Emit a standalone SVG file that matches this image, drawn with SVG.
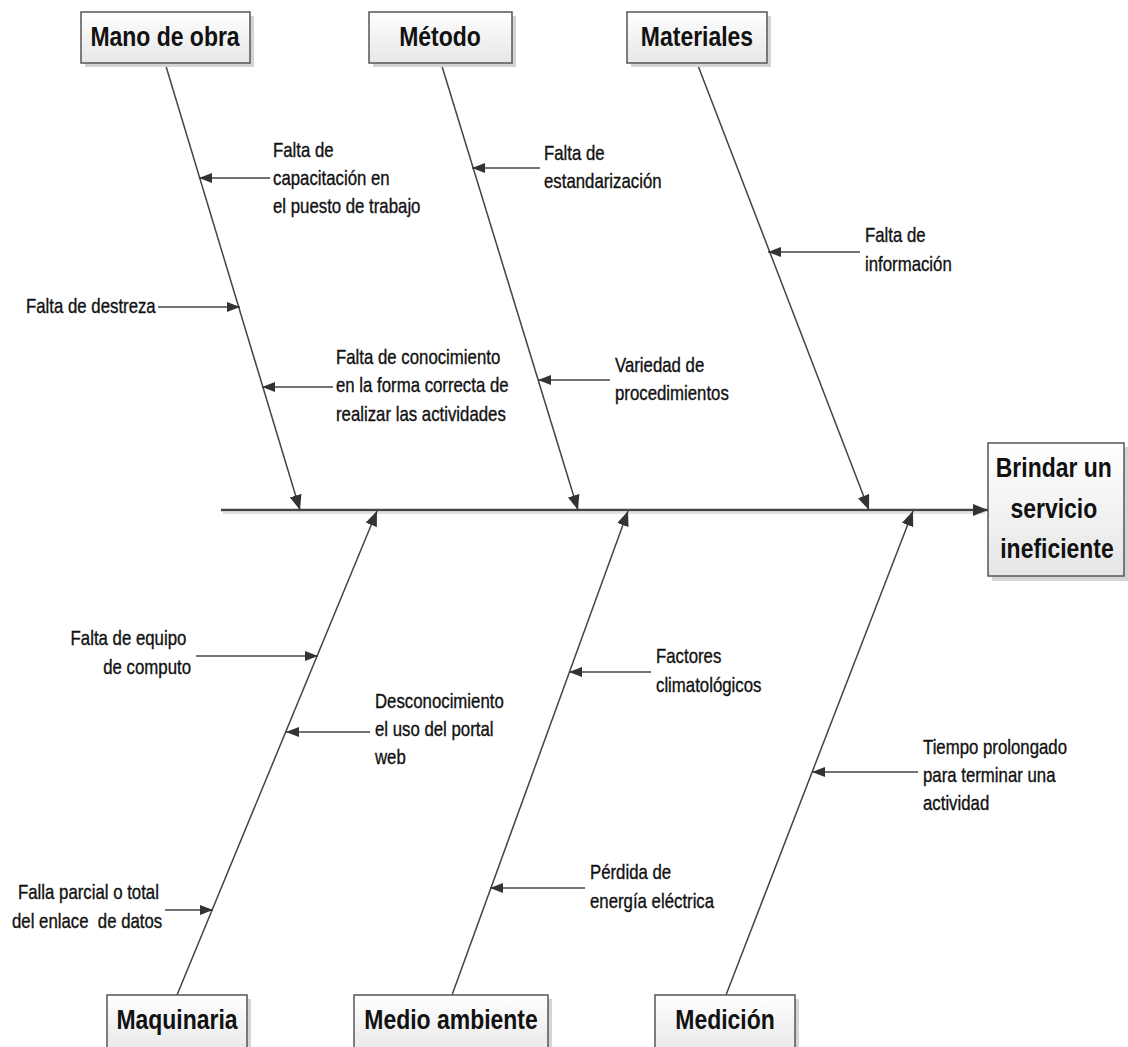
<svg xmlns="http://www.w3.org/2000/svg" width="1128" height="1047" viewBox="0 0 1128 1047">
  <defs>
    <linearGradient id="boxFill" x1="0" y1="0" x2="0" y2="1">
      <stop offset="0" stop-color="#ffffff"/>
      <stop offset="1" stop-color="#e6e6e6"/>
    </linearGradient>
    <marker id="boneHead" markerUnits="userSpaceOnUse" markerWidth="16" markerHeight="12" refX="15" refY="6" orient="auto">
      <path d="M0,0 L15,6 L0,12 Z" fill="#333"/>
    </marker>
    <marker id="causeHead" markerUnits="userSpaceOnUse" markerWidth="14" markerHeight="10" refX="13" refY="5" orient="auto">
      <path d="M0,0 L13,5 L0,10 Z" fill="#333"/>
    </marker>
    <style>
      .box { fill: url(#boxFill); stroke: #555; stroke-width: 1.5; }
      .shadow { fill: #d4d4d4; }
      .title { font-family: "Liberation Sans", Arial, sans-serif; font-weight: bold; font-size: 28px; fill: #111; text-anchor: middle; }
      .label { font-family: "Liberation Sans", Arial, sans-serif; font-size: 20px; fill: #111; stroke: #111; stroke-width: 0.35; }
      .bone { stroke: #444; stroke-width: 1.5; fill: none; marker-end: url(#boneHead); }
      .cause { stroke: #444; stroke-width: 1.5; fill: none; marker-end: url(#causeHead); }
      .spine { stroke: #444; stroke-width: 2.5; fill: none; marker-end: url(#boneHead); }
    </style>
  </defs>

  <rect width="1128" height="1047" fill="#ffffff"/>

  <!-- connectors: spine, category bones and cause arrows -->
  <g id="connectors">
    <line x1="223" y1="513" x2="985" y2="513" stroke="#e2e2e2" stroke-width="2"/>
    <line class="spine" x1="221" y1="510" x2="988" y2="510"/>

    <line class="bone" x1="165" y1="63" x2="300" y2="510"/>
    <line class="bone" x1="441" y1="63" x2="578" y2="510"/>
    <line class="bone" x1="697" y1="63" x2="869" y2="510"/>
    <line class="bone" x1="177" y1="995" x2="377" y2="511"/>
    <line class="bone" x1="452" y1="995" x2="628" y2="511"/>
    <line class="bone" x1="726" y1="995" x2="913" y2="511"/>

    <line class="cause" x1="270" y1="178" x2="199" y2="178"/>
    <line class="cause" x1="158" y1="307" x2="240" y2="307"/>
    <line class="cause" x1="333" y1="387" x2="262" y2="387"/>
    <line class="cause" x1="540" y1="168" x2="472" y2="168"/>
    <line class="cause" x1="610" y1="380" x2="538" y2="380"/>
    <line class="cause" x1="860" y1="252" x2="768" y2="252"/>
    <line class="cause" x1="196" y1="656" x2="318" y2="656"/>
    <line class="cause" x1="370" y1="732" x2="286" y2="732"/>
    <line class="cause" x1="165" y1="910" x2="213" y2="910"/>
    <line class="cause" x1="651" y1="672" x2="569" y2="672"/>
    <line class="cause" x1="585" y1="888" x2="490" y2="888"/>
    <line class="cause" x1="918" y1="772" x2="812" y2="772"/>
  </g>

  <!-- category boxes -->
  <g id="mano-de-obra">
    <rect class="shadow" x="85" y="16" width="169" height="51"/>
    <rect class="box" x="81" y="12" width="169" height="51"/>
    <text class="title" transform="translate(165,46) scale(0.82,1)">Mano de obra</text>
  </g>
  <g id="metodo">
    <rect class="shadow" x="373" y="16" width="143" height="51"/>
    <rect class="box" x="369" y="12" width="143" height="51"/>
    <text class="title" transform="translate(440,46) scale(0.82,1)">Método</text>
  </g>
  <g id="materiales">
    <rect class="shadow" x="631" y="16" width="140" height="51"/>
    <rect class="box" x="627" y="12" width="140" height="51"/>
    <text class="title" transform="translate(697,46) scale(0.82,1)">Materiales</text>
  </g>
  <g id="maquinaria">
    <rect class="shadow" x="111" y="999" width="140" height="60"/>
    <rect class="box" x="107" y="995" width="140" height="60"/>
    <text class="title" transform="translate(177,1029) scale(0.82,1)">Maquinaria</text>
  </g>
  <g id="medio-ambiente">
    <rect class="shadow" x="358" y="999" width="194" height="60"/>
    <rect class="box" x="354" y="995" width="194" height="60"/>
    <text class="title" transform="translate(451,1029) scale(0.82,1)">Medio ambiente</text>
  </g>
  <g id="medicion">
    <rect class="shadow" x="659" y="999" width="140" height="60"/>
    <rect class="box" x="655" y="995" width="140" height="60"/>
    <text class="title" transform="translate(725,1029) scale(0.82,1)">Medición</text>
  </g>

  <!-- effect box -->
  <g id="efecto">
    <rect class="shadow" x="992" y="447" width="136" height="134"/>
    <rect class="box" x="988" y="443" width="136" height="133"/>
    <text class="title" transform="translate(1057,477) scale(0.82,1)">
      <tspan x="0" dy="0">Brindar un</tspan>
      <tspan x="0" dy="41">servicio</tspan>
      <tspan x="0" dy="40">ineficiente</tspan>
    </text>
  </g>

  <!-- cause labels -->
  <g id="causa-capacitacion">
    <text class="label" transform="translate(273,157) scale(0.84,1)">
      <tspan x="0" dy="0">Falta de</tspan>
      <tspan x="0" dy="28">capacitación en</tspan>
      <tspan x="0" dy="28">el puesto de trabajo</tspan>
    </text>
  </g>
  <g id="causa-destreza">
    <text class="label" transform="translate(26,313) scale(0.84,1)">Falta de destreza</text>
  </g>
  <g id="causa-conocimiento">
    <text class="label" transform="translate(336,364) scale(0.84,1)">
      <tspan x="0" dy="0">Falta de conocimiento</tspan>
      <tspan x="0" dy="28.5">en la forma correcta de</tspan>
      <tspan x="0" dy="28.5">realizar las actividades</tspan>
    </text>
  </g>
  <g id="causa-estandarizacion">
    <text class="label" transform="translate(544,160) scale(0.84,1)">
      <tspan x="0" dy="0">Falta de</tspan>
      <tspan x="0" dy="28">estandarización</tspan>
    </text>
  </g>
  <g id="causa-procedimientos">
    <text class="label" transform="translate(615,372) scale(0.84,1)">
      <tspan x="0" dy="0">Variedad de</tspan>
      <tspan x="0" dy="28">procedimientos</tspan>
    </text>
  </g>
  <g id="causa-informacion">
    <text class="label" transform="translate(865,242) scale(0.84,1)">
      <tspan x="0" dy="0">Falta de</tspan>
      <tspan x="0" dy="29">información</tspan>
    </text>
  </g>
  <g id="causa-equipo">
    <text class="label" text-anchor="end" transform="translate(191,645) scale(0.84,1)">
      <tspan x="0" dy="0">Falta de equipo</tspan>
      <tspan x="0" dy="29">de computo</tspan>
    </text>
  </g>
  <g id="causa-portal">
    <text class="label" transform="translate(375,708) scale(0.84,1)">
      <tspan x="0" dy="0">Desconocimiento</tspan>
      <tspan x="0" dy="28">el uso del portal</tspan>
      <tspan x="0" dy="28">web</tspan>
    </text>
  </g>
  <g id="causa-enlace">
    <text class="label" transform="translate(18,899) scale(0.84,1)">Falla parcial o total</text>
    <text class="label" transform="translate(12,928) scale(0.84,1)" xml:space="preserve">del enlace  de datos</text>
  </g>
  <g id="causa-clima">
    <text class="label" transform="translate(656,663) scale(0.84,1)">
      <tspan x="0" dy="0">Factores</tspan>
      <tspan x="0" dy="29">climatológicos</tspan>
    </text>
  </g>
  <g id="causa-energia">
    <text class="label" transform="translate(590,879) scale(0.84,1)">
      <tspan x="0" dy="0">Pérdida de</tspan>
      <tspan x="0" dy="29">energía eléctrica</tspan>
    </text>
  </g>
  <g id="causa-tiempo">
    <text class="label" transform="translate(923,754) scale(0.84,1)">
      <tspan x="0" dy="0">Tiempo prolongado</tspan>
      <tspan x="0" dy="28">para terminar una</tspan>
      <tspan x="0" dy="28">actividad</tspan>
    </text>
  </g>
</svg>
